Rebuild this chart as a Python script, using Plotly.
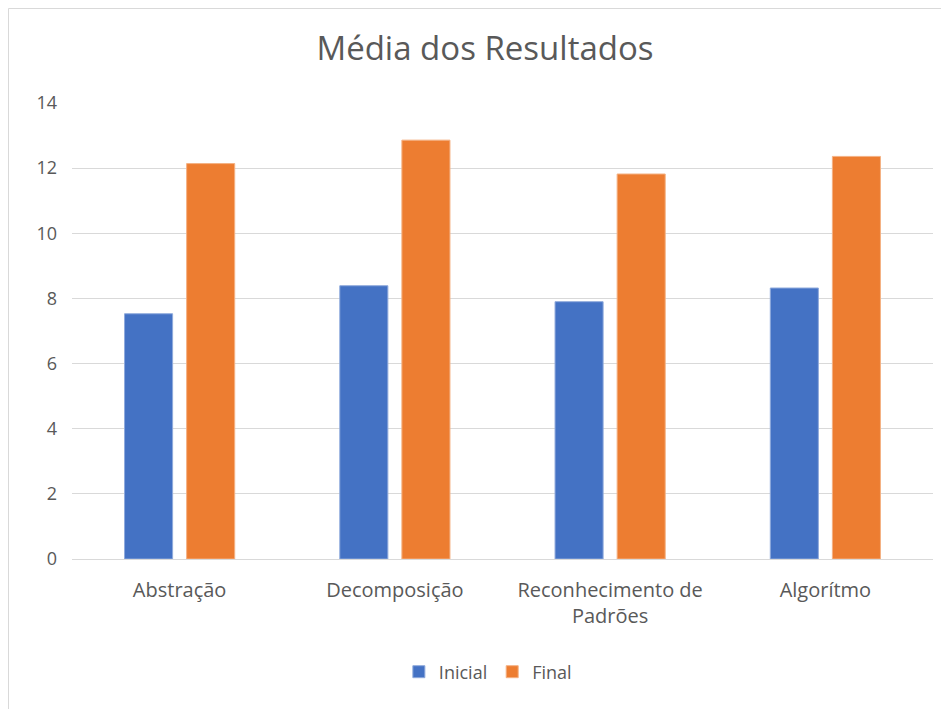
import plotly.graph_objects as go

categories = ["Abstração", "Decomposição", "Reconhecimento de<br>Padrões", "Algorítmo"]
inicial = [7.53, 8.39, 7.90, 8.32]
final = [12.14, 12.86, 11.82, 12.36]
y_ticks = [0, 2, 4, 6, 8, 10, 12, 14]

FONT = "Open Sans"
GRAY = "#595959"

W, H = 941, 701
L, T = 64, 95
PW, PH = 861, 456

fig = go.Figure()
fig.add_trace(go.Bar(name="Inicial", x=categories, y=inicial,
                     marker=dict(color="#4472C4", line=dict(color="#8FAADC", width=1))))
fig.add_trace(go.Bar(name="Final", x=categories, y=final,
                     marker=dict(color="#ED7D31", line=dict(color="#F4B183", width=1))))

fig.update_layout(
    width=W, height=H,
    margin=dict(l=L, r=W - L - PW, t=T, b=H - T - PH),
    paper_bgcolor="white", plot_bgcolor="white",
    barmode="group", bargap=0.423, bargroupgap=0.226,
    font=dict(family=FONT, color=GRAY, size=18),
    title=dict(text="Média dos Resultados", x=(485 - 8) / W, xanchor="center",
               y=1 - 40 / H, yanchor="middle",
               font=dict(family=FONT, size=33, color=GRAY)),
    legend=dict(orientation="h", x=0.483, xanchor="center", y=(456 - (672 - 103)) / 456,
                yanchor="middle", font=dict(family=FONT, size=18, color=GRAY), itemwidth=30),
    showlegend=True,
)
fig.update_yaxes(range=[0, 14], tickvals=y_ticks, showgrid=True, gridcolor="#D9D9D9",
                 gridwidth=1, zeroline=False, showline=False, ticks="",
                 tickfont=dict(family=FONT, size=18, color=GRAY), ticklabelstandoff=14)
fig.update_xaxes(showline=True, linecolor="#D9D9D9", linewidth=1, ticks="",
                 tickfont=dict(family=FONT, size=20, color=GRAY), ticklabelstandoff=13)

fig.add_shape(type="rect", xref="paper", yref="paper",
              x0=(0.5 - L) / PW, x1=1.2, y0=(T + PH - H - 10) / PH, y1=1 + (T - 0.5) / PH,
              line=dict(color="#D9D9D9", width=1), fillcolor="rgba(0,0,0,0)", layer="below")

fig.write_html("out.html")
